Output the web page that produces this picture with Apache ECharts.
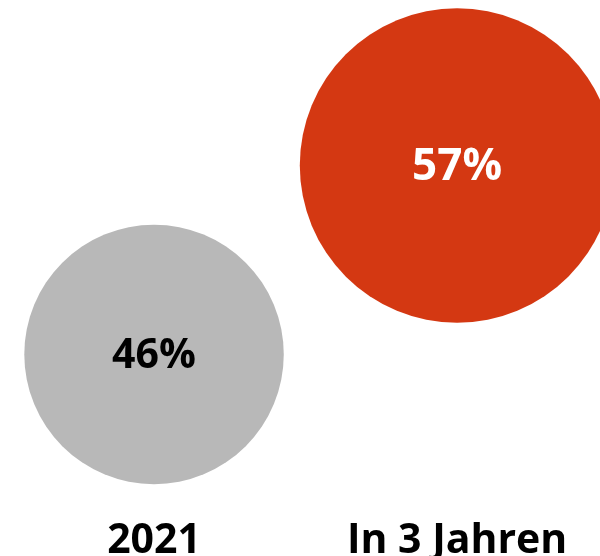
<!DOCTYPE html>
<html>
<head>
<meta charset="utf-8">
<script src="https://cdn.jsdelivr.net/npm/echarts@6/dist/echarts.min.js"></script>
<style>
  html, body { margin: 0; padding: 0; background: #ffffff; }
  #chart { width: 600px; height: 556px; }
</style>
</head>
<body>
<div id="chart"></div>
<script>
// Share of respondents: today vs. expected in three years
const categories = ['2021', 'In 3 Jahren'];
const shares = [46, 57];
const bubbleColors = ['#B8B8B8', '#D43812'];
const labelColors = ['#000000', '#ffffff'];
const labelSizes = [41, 44];

const FONT = '"Open Sans", "Liberation Sans", sans-serif';

// bubble diameter grows linearly with the share
function bubbleSize(v) {
  return 29 + 5.01 * v;
}

const chart = echarts.init(document.getElementById('chart'));
chart.setOption({
  animation: false,
  grid: {
    left: 2.5, right: -8.6, top: 28, bottom: 98.5,
    containLabel: false,
    outerBoundsMode: 'none'
  },
  xAxis: {
    type: 'category',
    data: categories,
    axisLine: { show: false },
    axisTick: { show: false },
    splitLine: { show: false },
    axisLabel: {
      margin: 63,
      color: '#000000',
      fontFamily: FONT,
      fontWeight: 'bold',
      fontSize: 41
    }
  },
  yAxis: {
    type: 'value',
    min: 40,
    max: 65,
    show: false,
    splitLine: { show: false }
  },
  series: [{
    type: 'scatter',
    clip: false,
    symbol: 'circle',
    data: shares.map((v, i) => ({
      value: [categories[i], v],
      symbolSize: bubbleSize(v),
      itemStyle: { color: bubbleColors[i], opacity: 1 },
      label: { color: labelColors[i], fontSize: labelSizes[i] }
    })),
    label: {
      show: true,
      position: 'inside',
      offset: [0, 2],
      formatter: p => p.value[1] + '%',
      fontFamily: FONT,
      fontWeight: 'bold'
    },
    emphasis: { disabled: true }
  }]
});
</script>
</body>
</html>
